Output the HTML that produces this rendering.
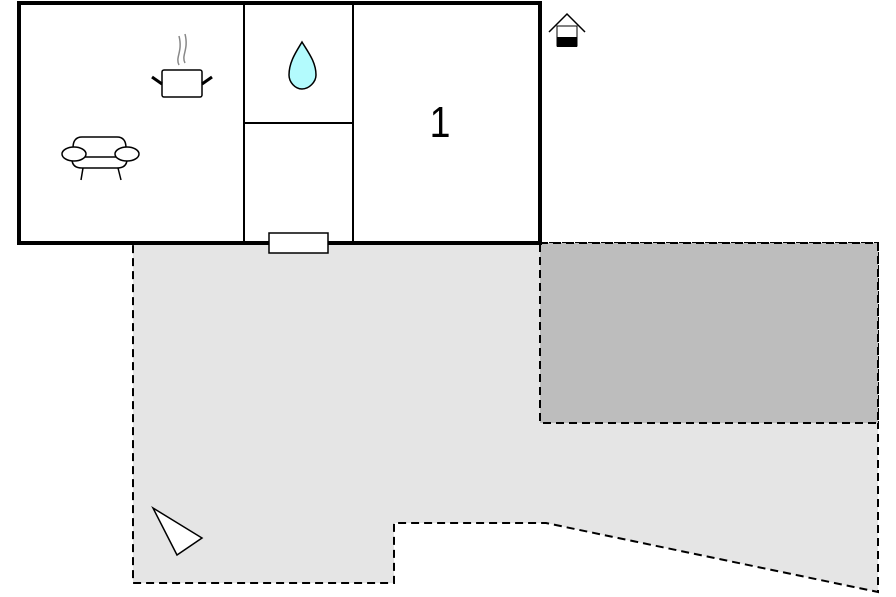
<!DOCTYPE html>
<html><head><style>body{margin:0;background:#fff}svg{display:block}.t{font-family:"Liberation Sans",Arial,sans-serif}</style></head><body>
<svg width="896" height="597" viewBox="0 0 896 597" xmlns="http://www.w3.org/2000/svg">
<polygon points="133,243 878,243 878,592 546,523 394,523 394,583 133,583" fill="#e5e5e5" stroke="#000" stroke-width="2" stroke-dasharray="8,5"/>
<rect x="540" y="243" width="338" height="180" fill="#bdbdbd" stroke="#000" stroke-width="2" stroke-dasharray="8,5"/>
<rect x="19" y="3" width="521" height="240" fill="#fff" stroke="#000" stroke-width="4"/>
<line x1="244" y1="3" x2="244" y2="243" stroke="#000" stroke-width="2"/>
<line x1="353" y1="3" x2="353" y2="243" stroke="#000" stroke-width="2"/>
<line x1="244" y1="123" x2="353" y2="123" stroke="#000" stroke-width="2"/>
<rect x="269" y="233" width="59" height="20" fill="#fff" stroke="#000" stroke-width="1.5"/>
<text class="t" x="440" y="137" font-size="44" text-anchor="middle" transform="translate(440,0) scale(0.85,1) translate(-440,0)">1</text>
<path d="M302,42 C296,52 289,62 289,75 C289,82 295,89 302,89 C309,89 316,82 316,75 C316,62 308,52 302,42 Z" fill="#b3fbfd" stroke="#000" stroke-width="1.5"/>
<path d="M549,32 L567,14 L585,32" fill="none" stroke="#000" stroke-width="1.5"/>
<rect x="557" y="26" width="20" height="20" fill="#fff" stroke="#000" stroke-width="1"/>
<rect x="557" y="37" width="20" height="10" fill="#000"/>
<rect x="162" y="70" width="40" height="27" rx="2" fill="#fff" stroke="#000" stroke-width="1.5"/>
<line x1="152" y1="77" x2="162" y2="84" stroke="#000" stroke-width="3"/>
<line x1="212" y1="77" x2="202" y2="84" stroke="#000" stroke-width="3"/>
<path d="M179,65 C175,57 183,52 179,36 M185,63 C181,55 189,50 185,34" fill="none" stroke="#888" stroke-width="1.5"/>
<path d="M73,148 Q73,137 82,137 H117 Q126,137 126,148" fill="none" stroke="#000" stroke-width="1.5"/>
<path d="M72,159 Q72,168 82,168 H117 Q127,168 127,159" fill="none" stroke="#000" stroke-width="1.5"/>
<line x1="80" y1="157" x2="120" y2="157" stroke="#000" stroke-width="1.5"/>
<ellipse cx="74" cy="154" rx="12" ry="7" fill="#fff" stroke="#000" stroke-width="1.5"/>
<ellipse cx="127" cy="154" rx="12" ry="7" fill="#fff" stroke="#000" stroke-width="1.5"/>
<line x1="83" y1="168" x2="81" y2="180" stroke="#000" stroke-width="1.5"/>
<line x1="118" y1="168" x2="121" y2="180" stroke="#000" stroke-width="1.5"/>
<polygon points="153,508 202,538 177,555" fill="#fff" stroke="#000" stroke-width="1.5"/>
</svg>
</body></html>
